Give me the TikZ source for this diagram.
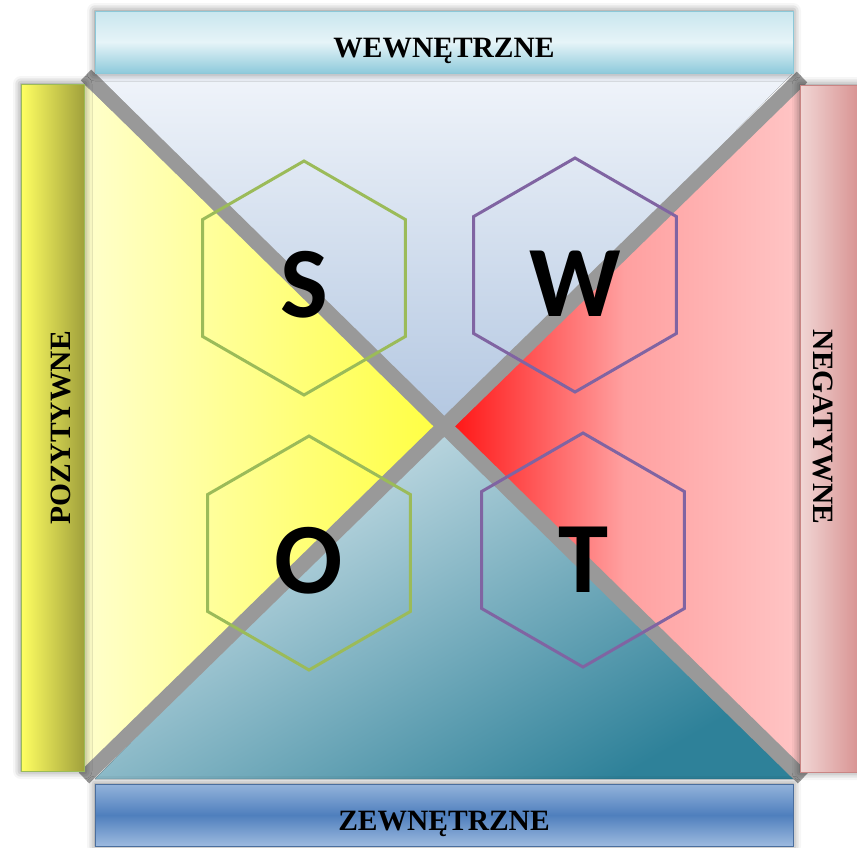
\documentclass[tikz,border=0pt]{standalone}
\usepackage{fontspec}
\setmainfont{Liberation Serif}
\newfontfamily\swotfont{Carlito}
\usetikzlibrary{shapes.geometric,shadows.blur}
\definecolor{hexgreen}{HTML}{9BBB59}
\definecolor{hexpurple}{HTML}{8064A2}
\definecolor{xgray}{HTML}{999999}
\definecolor{tbTop}{HTML}{C9E6EE}
\definecolor{tbMid}{HTML}{E6F4F8}
\definecolor{tbBot}{HTML}{8ECADB}
\definecolor{tbLine}{HTML}{8CC8D8}
\definecolor{bbTop}{HTML}{93B3DB}
\definecolor{bbMid}{HTML}{4F7FBD}
\definecolor{bbBot}{HTML}{9DBADF}
\definecolor{bbLine}{HTML}{4A6E9E}
\definecolor{lbLeft}{HTML}{FFFF62}
\definecolor{lbRight}{HTML}{A1A13C}
\definecolor{rbLeft}{HTML}{F1D6D5}
\definecolor{rbRight}{HTML}{D99594}
\definecolor{rbLine}{HTML}{C98584}
\definecolor{triTopA}{HTML}{F0F4FA}
\definecolor{triTopB}{HTML}{B3C7E1}
\definecolor{triYelA}{HTML}{FFFFCC}
\definecolor{triYelB}{HTML}{FFFF40}
\definecolor{triRedA}{HTML}{FF0F0F}
\definecolor{triRedM}{HTML}{FFA0A0}
\definecolor{triRedB}{HTML}{FFC6C6}
\definecolor{triTealA}{HTML}{D8E8EE}
\definecolor{triTealB}{HTML}{2E8199}
\tikzset{
  bar/.style={line width=0.8pt, inner sep=0pt,
    blur shadow={shadow xshift=0pt, shadow yshift=0pt, shadow blur radius=8pt, shadow opacity=55}},
  hbar/.style={bar, minimum width=698pt, minimum height=62pt},
  vbar/.style={bar, minimum width=63pt, minimum height=687pt},
  topbar/.style={hbar, draw=tbLine, top color=tbTop, bottom color=tbBot, middle color=tbMid},
  botbar/.style={hbar, draw=bbLine, top color=bbTop, bottom color=bbBot, middle color=bbMid},
  leftbar/.style={vbar, draw=hexgreen, left color=lbLeft, right color=lbRight},
  rightbar/.style={vbar, minimum width=57pt, draw=rbLine, left color=rbLeft, right color=rbRight},
  bartext/.style={inner sep=0pt, font=\fontsize{29.5}{30}\selectfont\bfseries},
  xline/.style={draw=xgray, line width=15pt},
  hexnode/.style={regular polygon, regular polygon sides=6, shape border rotate=30,
    minimum size=234pt, inner sep=0pt, line width=3pt},
  sHex/.style={hexnode, draw=hexgreen},
  wHex/.style={hexnode, draw=hexpurple},
  letter/.style={inner sep=0pt, font=\swotfont\bfseries\fontsize{101}{101}\selectfont}
}
\begin{document}
\begin{tikzpicture}[x=1pt,y=-1pt]
\useasboundingbox (0,0) rectangle (857,847);
% corner coordinates
\coordinate (c) at (444,425);
\coordinate (tl) at (86,75);
\coordinate (tr) at (802,77);
\coordinate (bl) at (84,778);
\coordinate (br) at (803,778);
% triangles
\fill[top color=triTopA, bottom color=triTopB] (95,73) -- (793,73) -- (c) -- cycle;
\fill[left color=triYelA, right color=triYelB] (84,84) -- (84,771) -- (c) -- cycle;
\fill[left color=triRedA, right color=triRedB, middle color=triRedM] (805,84) -- (805,774) -- (c) -- cycle;
\fill[top color=triTealA, bottom color=triTealB, shading angle=30] (95,779) -- (795,779) -- (c) -- cycle;
% gray X
\draw[xline] (tl) -- (br);
\draw[xline] (tr) -- (bl);
% bars
\node[topbar] (topb) at (444,42) {};
\node[botbar] (botb) at (444,815) {};
\node[leftbar] (leftb) at (52.5,427.5) {};
\node[rightbar] (rightb) at (828.5,428.5) {};
\node[bartext] (topt) at (444,51) {WEWNĘTRZNE};
\node[bartext] (bott) at (444,824) {ZEWNĘTRZNE};
\node[bartext, rotate=90] (leftt) at (61,428) {POZYTYWNE};
\node[bartext, rotate=-90] (rightt) at (823,427) {NEGATYWNE};
% hexagons
\node[sHex] (hS) at (304,278) {};
\node[wHex] (hW) at (575,275) {};
\node[sHex] (hO) at (309,553) {};
\node[wHex] (hT) at (583,550) {};
% letters
\node[letter] (lS) at ([yshift=-7pt]hS.center) {S};
\node[letter] (lW) at ([yshift=-9pt]hW.center) {W};
\node[letter] (lO) at ([yshift=-8pt]hO.center) {O};
\node[letter] (lT) at ([yshift=-10pt]hT.center) {T};
\end{tikzpicture}
\end{document}
